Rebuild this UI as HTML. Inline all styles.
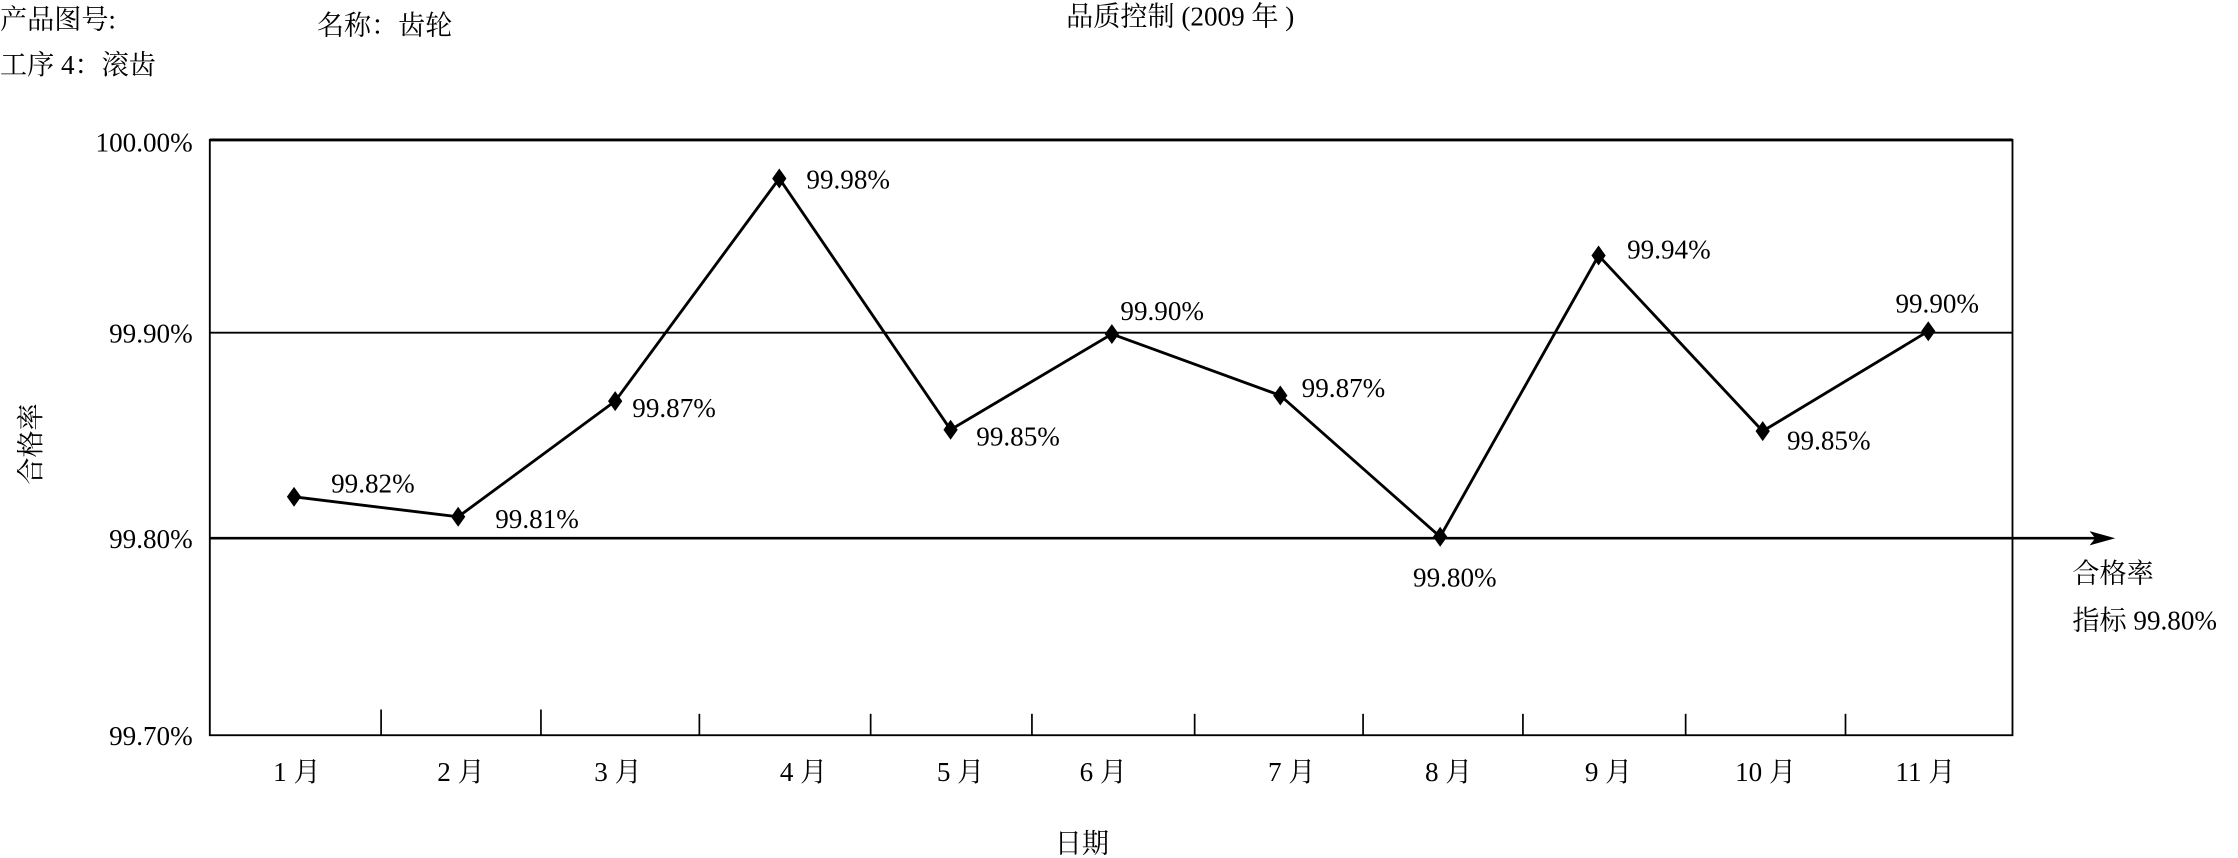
<!DOCTYPE html>
<html><head><meta charset="utf-8"><style>
html,body{margin:0;padding:0;background:#fff;}
svg{display:block;}
svg text{font-family:"Liberation Serif","Noto Serif CJK SC","Noto Sans CJK SC",serif;font-size:19px;fill:#000;}
</style></head><body>
<svg width="2238" height="858" viewBox="0 0 1568 601" preserveAspectRatio="none" xmlns="http://www.w3.org/2000/svg" font-family="Liberation Serif, Noto Serif CJK SC, serif">
<text x="0" y="20">产品图号:</text>
<text x="222" y="24">名称：齿轮</text>
<text x="747" y="18">品质控制 (2009 年 )</text>
<text x="0" y="52">工序 4：滚齿</text>
<rect x="147" y="98" width="1263" height="417" fill="none" stroke="#000" stroke-width="1.3"/>
<line x1="147" y1="98" x2="1410" y2="98" stroke="#000" stroke-width="2"/>
<line x1="147" y1="233" x2="1410" y2="233" stroke="#000" stroke-width="1.3"/>
<line x1="147" y1="377" x2="1475" y2="377" stroke="#000" stroke-width="1.8"/>
<polygon points="1482,377 1464,372 1468,377 1464,382" fill="#000"/>
<g stroke="#000" stroke-width="1.2">
<line x1="267" y1="497" x2="267" y2="515"/><line x1="379" y1="497" x2="379" y2="515"/>
<line x1="490" y1="500" x2="490" y2="515"/><line x1="610" y1="500" x2="610" y2="515"/>
<line x1="723" y1="500" x2="723" y2="515"/><line x1="837" y1="500" x2="837" y2="515"/>
<line x1="955" y1="500" x2="955" y2="515"/><line x1="1067" y1="500" x2="1067" y2="515"/>
<line x1="1181" y1="500" x2="1181" y2="515"/><line x1="1293" y1="500" x2="1293" y2="515"/>
</g>
<g text-anchor="end">
<text x="135" y="106">100.00%</text>
<text x="135" y="240">99.90%</text>
<text x="135" y="384">99.80%</text>
<text x="135" y="522">99.70%</text>
</g>
<text transform="translate(28,311) rotate(-90)" text-anchor="middle">合格率</text>
<polyline points="206,348 321,362 431,281 546,125 666,301 779,234 897,277 1009,376 1120,179 1235,302 1351,232" fill="none" stroke="#000" stroke-width="2"/>
<g fill="#000">
<path d="M206,341 l5,7 l-5,7 l-5,-7z"/><path d="M321,355 l5,7 l-5,7 l-5,-7z"/>
<path d="M431,274 l5,7 l-5,7 l-5,-7z"/><path d="M546,118 l5,7 l-5,7 l-5,-7z"/>
<path d="M666,294 l5,7 l-5,7 l-5,-7z"/><path d="M779,227 l5,7 l-5,7 l-5,-7z"/>
<path d="M897,270 l5,7 l-5,7 l-5,-7z"/><path d="M1009,369 l5,7 l-5,7 l-5,-7z"/>
<path d="M1120,172 l5,7 l-5,7 l-5,-7z"/><path d="M1235,295 l5,7 l-5,7 l-5,-7z"/>
<path d="M1351,225 l5,7 l-5,7 l-5,-7z"/>
</g>
<text x="232" y="345">99.82%</text>
<text x="347" y="370">99.81%</text>
<text x="443" y="292">99.87%</text>
<text x="565" y="132">99.98%</text>
<text x="684" y="312">99.85%</text>
<text x="785" y="224">99.90%</text>
<text x="912" y="278">99.87%</text>
<text x="990" y="411">99.80%</text>
<text x="1140" y="181">99.94%</text>
<text x="1252" y="315">99.85%</text>
<text x="1328" y="219">99.90%</text>
<text x="1452" y="408">合格率</text>
<text x="1452" y="441">指标 99.80%</text>
<g text-anchor="middle">
<text x="208" y="547">1 月</text><text x="323" y="547">2 月</text><text x="433" y="547">3 月</text>
<text x="563" y="547">4 月</text><text x="673" y="547">5 月</text><text x="773" y="547">6 月</text>
<text x="905" y="547">7 月</text><text x="1015" y="547">8 月</text><text x="1127" y="547">9 月</text>
<text x="1237" y="547">10 月</text><text x="1349" y="547">11 月</text>
<text x="758" y="597">日期</text>
</g>
</svg>
</body></html>
